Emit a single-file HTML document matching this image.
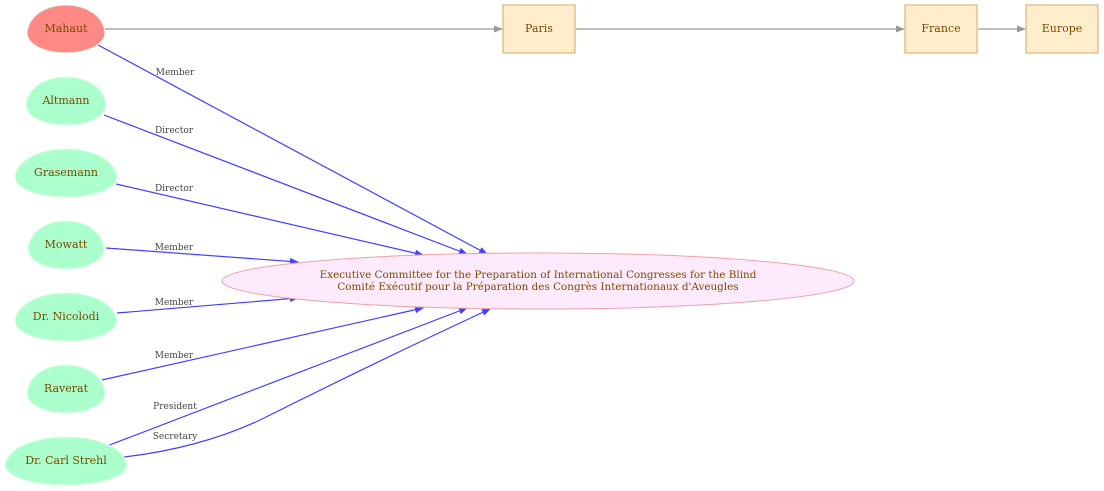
<!DOCTYPE html>
<html><head><meta charset="utf-8"><style>
html,body{margin:0;padding:0;background:#fff;}
svg{display:block;}
.n{font-family:"DejaVu Serif","Liberation Serif",serif;font-size:11px;fill:#7a4a00;text-anchor:middle;}
.c{font-family:"DejaVu Serif","Liberation Serif",serif;font-size:10.4px;fill:#7a4a00;text-anchor:middle;}
.l{font-family:"DejaVu Serif","Liberation Serif",serif;font-size:9px;fill:#444;text-anchor:middle;}
.e{stroke:#4040ff;stroke-width:1.2;fill:none;}
.g{stroke:#999;stroke-width:1.2;fill:none;}
</style></head><body>
<svg width="1104" height="491" viewBox="0 0 1104 491" xmlns="http://www.w3.org/2000/svg">
<defs>
<marker id="ab" markerWidth="9" markerHeight="7" refX="8" refY="3.5" orient="auto" markerUnits="userSpaceOnUse"><path d="M0,0 L9,3.5 L0,7 z" fill="#4040ff"/></marker>
<marker id="ag" markerWidth="9" markerHeight="7" refX="8" refY="3.5" orient="auto" markerUnits="userSpaceOnUse"><path d="M0,0 L9,3.5 L0,7 z" fill="#999"/></marker>
</defs>
<line class="g" x1="105" y1="29" x2="502" y2="29" marker-end="url(#ag)"/>
<line class="g" x1="576" y1="29" x2="904" y2="29" marker-end="url(#ag)"/>
<line class="g" x1="978" y1="29" x2="1025" y2="29" marker-end="url(#ag)"/>
<line class="e" x1="98" y1="45" x2="487" y2="254" marker-end="url(#ab)"/>
<line class="e" x1="104" y1="115" x2="467" y2="254" marker-end="url(#ab)"/>
<line class="e" x1="116" y1="184" x2="423" y2="255" marker-end="url(#ab)"/>
<line class="e" x1="106" y1="248" x2="298" y2="262" marker-end="url(#ab)"/>
<line class="e" x1="117" y1="313" x2="298" y2="298" marker-end="url(#ab)"/>
<line class="e" x1="102" y1="380" x2="423" y2="308" marker-end="url(#ab)"/>
<line class="e" x1="107" y1="446" x2="467" y2="308" marker-end="url(#ab)"/>
<path class="e" d="M124,457 Q200,448 260,420 Q380,360 490,309" marker-end="url(#ab)"/>
<text class="l" x="175" y="75">Member</text>
<text class="l" x="174" y="133">Director</text>
<text class="l" x="174" y="191">Director</text>
<text class="l" x="174" y="250">Member</text>
<text class="l" x="174" y="305">Member</text>
<text class="l" x="174" y="358">Member</text>
<text class="l" x="175" y="409">President</text>
<text class="l" x="175" y="439">Secretary</text>
<g stroke="#ddffe6" stroke-width="1">
<path fill="#ff8a85" d="M27,32 C27,60 105,60 105,32 C100,-4 32,-4 27,32 z"/>
<path fill="#aaffcc" d="M26,104 C26,132 106,132 106,104 C101,68 31,68 26,104 z"/>
<path fill="#aaffcc" d="M15,176 C15,204 117,204 117,176 C110,140 22,140 15,176 z"/>
<path fill="#aaffcc" d="M28,248 C28,276 104,276 104,248 C99,212 33,212 28,248 z"/>
<path fill="#aaffcc" d="M15,320 C15,348 117,348 117,320 C110,284 22,284 15,320 z"/>
<path fill="#aaffcc" d="M27,392 C27,420 105,420 105,392 C100,356 32,356 27,392 z"/>
<path fill="#aaffcc" d="M5,464 C5,492 127,492 127,464 C118,428 14,428 5,464 z"/>
</g>
<text class="n" x="66" y="32">Mahaut</text>
<text class="n" x="66" y="104">Altmann</text>
<text class="n" x="66" y="176">Grasemann</text>
<text class="n" x="66" y="248">Mowatt</text>
<text class="n" x="66" y="320">Dr. Nicolodi</text>
<text class="n" x="66" y="392">Raverat</text>
<text class="n" x="66" y="464">Dr. Carl Strehl</text>
<g fill="#ffedcc" stroke="#d9a860" stroke-width="1">
<rect x="503" y="5" width="72" height="48"/>
<rect x="905" y="5" width="72" height="48"/>
<rect x="1026" y="5" width="72" height="48"/>
</g>
<text class="n" x="539" y="32">Paris</text>
<text class="n" x="941" y="32">France</text>
<text class="n" x="1062" y="32">Europe</text>
<ellipse cx="538" cy="281" rx="316" ry="28" fill="#fdebfd" stroke="#f0a0a8" stroke-width="1"/>
<text class="c" x="538" y="278">Executive Committee for the Preparation of International Congresses for the Blind</text>
<text class="c" x="538" y="290">Comité Exécutif pour la Préparation des Congrès Internationaux d'Aveugles</text>
</svg>
</body></html>
